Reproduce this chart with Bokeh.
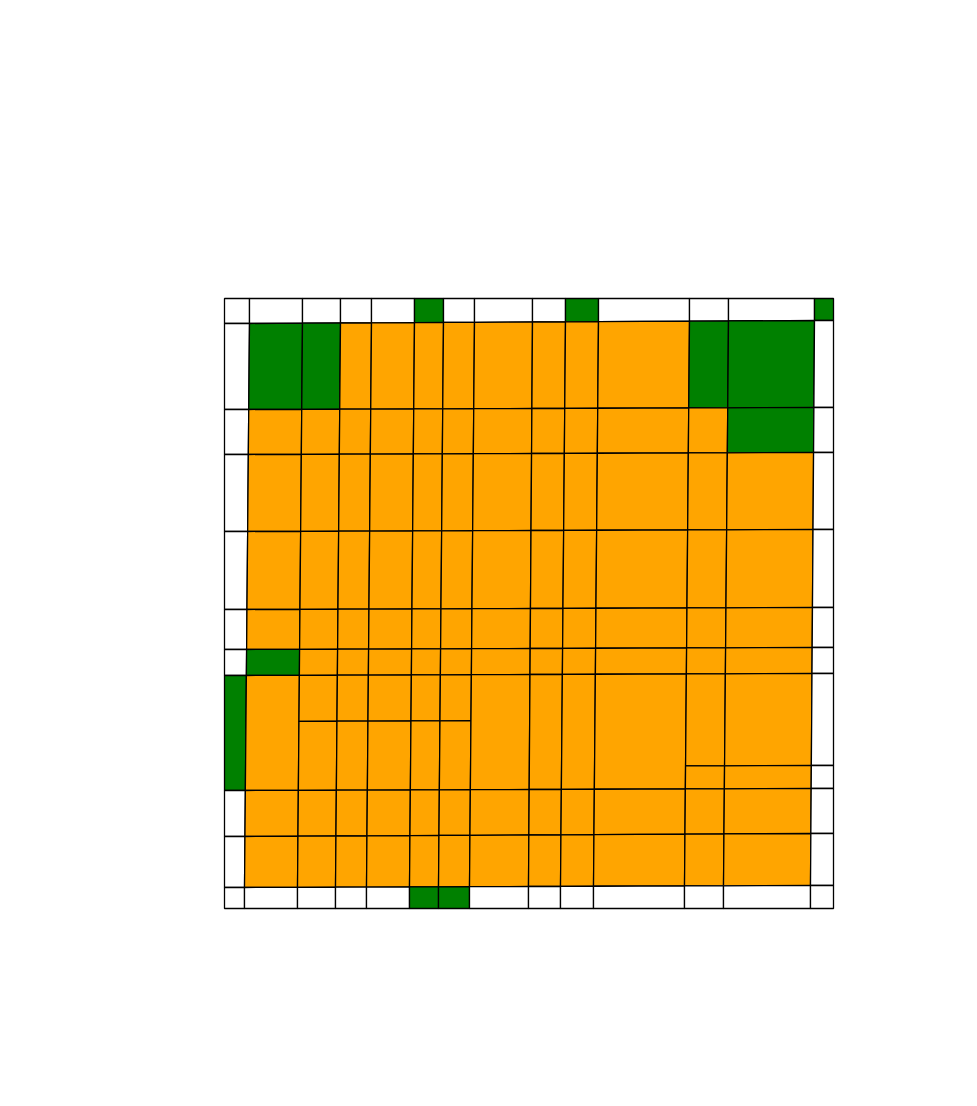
from bokeh.plotting import figure
from bokeh.models import Range1d
from bokeh.embed import file_html
from bokeh.resources import INLINE

# ---- data (page-pixel positions) ----
box_x = [224, 833]            # outer left / right
box_y = [298, 908]            # outer top / bottom
col_top = [249, 302, 340, 371, 414, 443, 474, 532, 565, 598, 689, 728, 814]
col_bottom = [244, 297, 335, 366, 409, 438, 469, 528, 560, 593, 684, 723, 810]
row_left = [323, 409, 454, 531, 609, 649, 675, 790, 836, 887]
row_right = [320, 407, 452, 529, 607, 647, 673, 788, 833, 885]

# cell colour codes: w = white, g = green, o = orange (rows top->bottom, cols left->right)
cell_codes = [
    "wwwwwgwwwgwwwg",
    "wggooooooooggw",
    "wooooooooooogw",
    "woooooooooooow",
    "woooooooooooow",
    "woooooooooooow",
    "wgooooooooooow",
    "goooooooooooow",
    "woooooooooooow",
    "woooooooooooow",
    "wwwwwggwwwwwww",
]
# subdivided cells: (row, col) -> fraction of the cell height where it is split
splits = {(7, 2): 0.4, (7, 3): 0.4, (7, 4): 0.4, (7, 5): 0.4, (7, 6): 0.4,
          (7, 11): 0.8, (7, 12): 0.8, (7, 13): 0.8}
palette = {"w": "#ffffff", "g": "#008000", "o": "#ffa500"}

# ---- geometry ----
nci = len(col_top)
nri = len(row_left)
s = [(col_top[i] - col_top[0]) / (col_top[-1] - col_top[0]) for i in range(nci)]
v = [(row_left[j] - row_left[0]) / (row_left[-1] - row_left[0]) for j in range(nri)]


def vertex(i, j):
    # i: column boundary index 0..nci+1, j: row boundary index 0..nri+1
    i_outer = i == 0 or i == nci + 1
    j_outer = j == 0 or j == nri + 1
    if i_outer and j_outer:
        return box_x[0 if i == 0 else 1], box_y[0 if j == 0 else 1]
    if i_outer:
        y = row_left[j - 1] if i == 0 else row_right[j - 1]
        return box_x[0 if i == 0 else 1], y
    if j_outer:
        x = col_top[i - 1] if j == 0 else col_bottom[i - 1]
        return x, box_y[0 if j == 0 else 1]
    ci, rj = i - 1, j - 1
    x = col_top[ci] + (col_bottom[ci] - col_top[ci]) * v[rj]
    y = row_left[rj] + (row_right[rj] - row_left[rj]) * s[ci]
    return x, y


xs, ys, colors = [], [], []
for r, codes in enumerate(cell_codes):
    for c, code in enumerate(codes):
        tl = vertex(c, r)
        tr = vertex(c + 1, r)
        br = vertex(c + 1, r + 1)
        bl = vertex(c, r + 1)
        col = palette[code]
        if (r, c) in splits:
            f = splits[(r, c)]
            ml = (tl[0] + (bl[0] - tl[0]) * f, tl[1] + (bl[1] - tl[1]) * f)
            mr = (tr[0] + (br[0] - tr[0]) * f, tr[1] + (br[1] - tr[1]) * f)
            quads = [(tl, tr, mr, ml), (ml, mr, br, bl)]
        else:
            quads = [(tl, tr, br, bl)]
        for q in quads:
            xs.append([pt[0] for pt in q])
            ys.append([pt[1] for pt in q])
            colors.append(col)

W, H = 960, 1088
p = figure(width=W, height=H, output_backend="svg", toolbar_location=None,
           x_range=Range1d(0, W), y_range=Range1d(H, 0),
           x_axis_type=None, y_axis_type=None, min_border=0)
p.outline_line_color = None
p.xgrid.visible = False
p.ygrid.visible = False
p.background_fill_color = "white"
p.border_fill_color = "white"

p.patches(xs, ys, fill_color=colors, line_color="black", line_width=1.3)

open("out.html", "w").write(file_html(p, INLINE))
